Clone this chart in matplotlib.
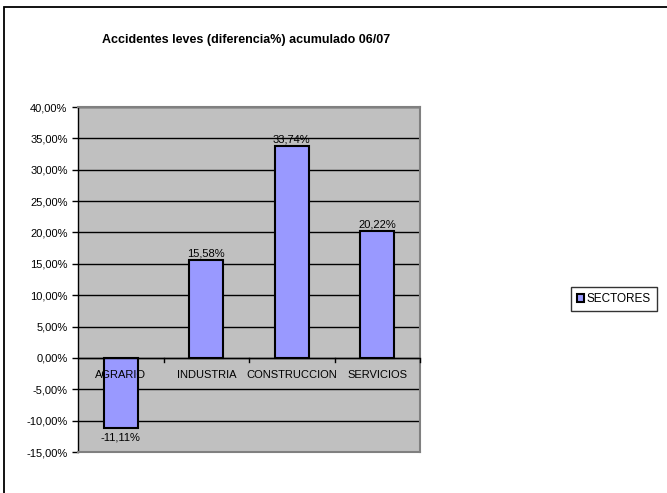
"""Accidentes leves (diferencia%) acumulado 06/07 - bar chart by sector."""

import matplotlib.pyplot as plt
from matplotlib.patches import Rectangle
from matplotlib.ticker import FuncFormatter, MultipleLocator

plt.rcParams["font.family"] = ["Liberation Sans", "DejaVu Sans"]

sectors = ["AGRARIO", "INDUSTRIA", "CONSTRUCCION", "SERVICIOS"]
values = [-11.11, 15.58, 33.74, 20.22]
series_name = "SECTORES"
title = "Accidentes leves (diferencia%) acumulado 06/07"


def pct(v):
    return f"{v:.2f}".replace(".", ",") + "%"


fig = plt.figure(figsize=(6.67, 4.93), dpi=100)
W, H = 667, 493

# outer chart frame (runs off right and bottom edges)
fig.patches.append(Rectangle((4 / W, -0.1), 1.2, 1 - 7 / H + 0.1,
                             transform=fig.transFigure, fill=False,
                             edgecolor="black", linewidth=1.3))

ax = fig.add_axes([78 / W, 1 - 452 / H, 342 / W, 345 / H])
ax.set_facecolor("#C0C0C0")

x = list(range(len(sectors)))
ax.bar(x, values, width=0.4, color="#9999FF", edgecolor="black",
       linewidth=1.5, zorder=3, label=series_name)

ax.set_xlim(-0.5, len(sectors) - 0.5)
ax.set_ylim(-15, 40)
ax.yaxis.set_major_locator(MultipleLocator(5))
ax.yaxis.set_major_formatter(FuncFormatter(lambda v, _: pct(v)))
ax.tick_params(axis="y", labelsize=8, length=4, width=1, direction="out")
ax.yaxis.grid(True, color="black", linewidth=1, zorder=1)
ax.set_axisbelow(True)

for s in ("top", "right", "bottom"):
    ax.spines[s].set_color("#808080")
    ax.spines[s].set_linewidth(1.5)
ax.spines["left"].set_color("black")
ax.spines["left"].set_linewidth(1)

# category axis sits at zero
ax.set_xticks([])
ax.axhline(0, color="black", linewidth=1, zorder=4)
for b in range(1, len(sectors) + 1):
    ax.plot([b - 0.5, b - 0.5], [0, -0.7], color="black", linewidth=1,
            zorder=4, clip_on=False)
for xi, name in zip(x, sectors):
    ax.text(xi, -1.9, name, ha="center", va="top", fontsize=8, zorder=5)

for xi, v in zip(x, values):
    if v >= 0:
        ax.text(xi, v + 0.3, pct(v), ha="center", va="bottom", fontsize=8,
                zorder=5)
    else:
        ax.text(xi, v - 0.8, pct(v), ha="center", va="top", fontsize=8,
                zorder=5)

fig.text(246 / W, 1 - 40 / H, title, ha="center", va="center",
         fontsize=9, fontweight="bold")

fig.legend(loc="center", bbox_to_anchor=(614 / W, 1 - 299 / H),
           fontsize=8.5, frameon=True, fancybox=False, edgecolor="black",
           handlelength=0.6, handleheight=0.6, handletextpad=0.2,
           borderpad=0.55, borderaxespad=0)

fig.savefig("out.png", dpi=100)
